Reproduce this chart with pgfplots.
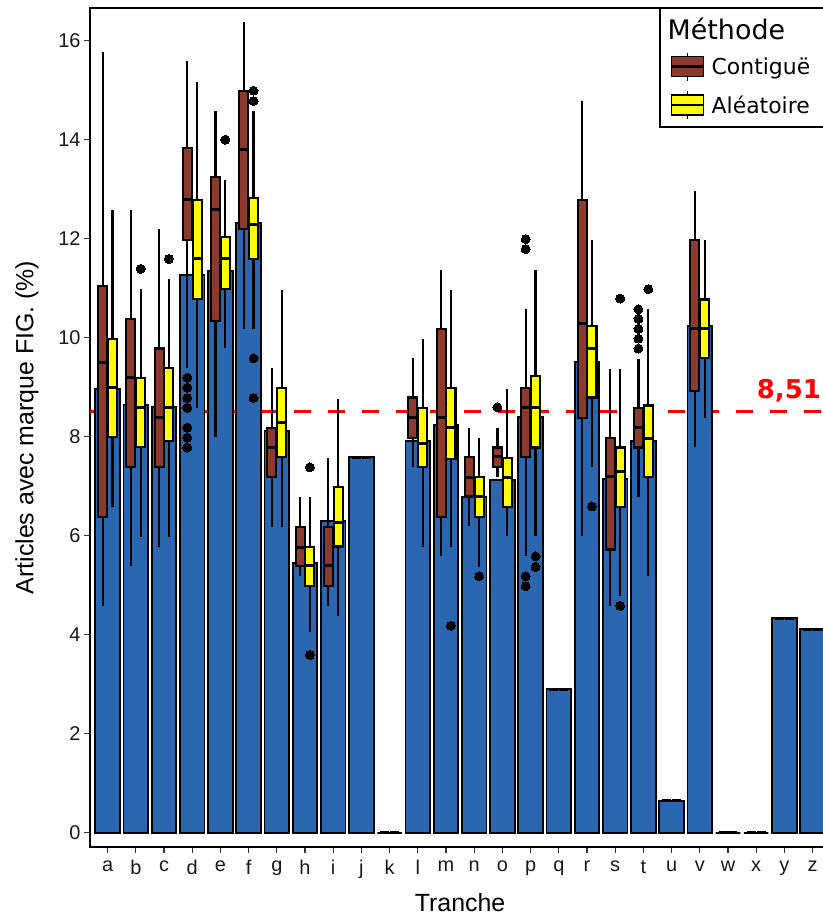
\documentclass[border=0pt]{standalone}
\usepackage{pgfplots}
\pgfplotsset{compat=1.18}
\usepgfplotslibrary{statistics}
\usepackage{fontspec}
\setmainfont{Liberation Sans}
\newfontfamily\dejavu{DejaVu Sans}
\definecolor{barblue}{RGB}{43,103,176}
\definecolor{brownc}{RGB}{139,58,45}
\definecolor{yel}{RGB}{255,255,0}
% pos, colour, lw, lq, med, uq, uw
\newcommand{\bxn}[7]{%
\addplot[forget plot, black, line width=2.1bp,
 boxplot prepared={draw direction=y, draw position={#1}, lower whisker=#3, lower quartile=#4, median=#5, upper quartile=#6, upper whisker=#7, box extend=0.32, whisker extend=0,
   every box/.style={draw=black, fill=#2, line width=2.1bp},
   every whisker/.style={draw=black, line width=2.1bp},
   every median/.style={draw=black, line width=3bp}}]
 coordinates {};}
\newcommand{\bxo}[8]{%
\addplot[forget plot, black, line width=2.1bp, mark=*, mark size=4.5bp, mark options={fill=black, draw=black, line width=0pt},
 boxplot prepared={draw direction=y, draw position={#1}, lower whisker=#3, lower quartile=#4, median=#5, upper quartile=#6, upper whisker=#7, box extend=0.32, whisker extend=0,
   every box/.style={draw=black, fill=#2, line width=2.1bp},
   every whisker/.style={draw=black, line width=2.1bp},
   every median/.style={draw=black, line width=3bp}}]
 table[row sep=\\, y index=0] {y\\ #8};}
\begin{document}
\begin{tikzpicture}
\begin{axis}[
 scale only axis, width=740.2bp, height=839bp,
 xmin=-0.624, xmax=25.624, ymin=-0.29, ymax=16.66,
 xtick={0,...,25},
 xticklabels={a,b,c,d,e,f,g,h,i,j,k,l,m,n,o,p,q,r,s,t,u,v,w,x,y,z},
 ytick={0,2,...,16},
 tick align=outside, xtick pos=bottom, ytick pos=left,
 major tick length=6bp,
 tick style={line width=1.3bp, color=black!80},
 axis line style={line width=1.6bp},
 /pgf/number format/assume math mode=true,
 ticklabel style={font=\fontsize{20}{20}\selectfont, text=black!90},
 xticklabel style={yshift=-4bp},
 xlabel={Tranche}, ylabel={Articles avec marque FIG. (\%)},
 label style={font=\fontsize{25}{25}\selectfont},
 xlabel style={at={(axis description cs:0.5,0)}, anchor=center, yshift=-56bp},
 ylabel style={at={(axis description cs:-0.0851,0.5)}, anchor=center},
 clip mode=individual,
 legend style={at={(axis description cs:0.7687,1)}, anchor=north west, draw=black, line width=1.5bp, fill=white,
   font=\dejavu\fontsize{22}{22}\selectfont, row sep=9bp, inner ysep=7bp},
 legend cell align=left,
]
% reference line
\addplot[forget plot, red, line width=2.8bp, dash pattern=on 17bp off 17bp] coordinates {(-0.624,8.51) (25.624,8.51)};
% bars
\addplot[forget plot, ybar, bar width=0.87, bar shift=0, fill=barblue, draw=black, line width=1.9bp] coordinates {
(0,8.97) (1,8.64) (2,8.60) (3,11.27) (4,11.34) (5,12.31) (6,8.11) (7,5.44) (8,6.30) (9,7.58)
(10,0) (11,7.92) (12,8.23) (13,6.78) (14,7.13) (15,8.39) (16,2.90) (17,9.51) (18,7.14) (19,7.91)
(20,0.64) (21,10.24) (22,0) (23,0) (24,4.33) (25,4.11)};
% a
\bxn{-0.175}{brownc}{4.58}{6.38}{9.49}{11.04}{15.78}
\bxn{0.175}{yel}{6.58}{7.99}{8.99}{9.98}{12.57}
% b
\bxn{0.825}{brownc}{5.39}{7.38}{9.19}{10.38}{12.57}
\bxo{1.175}{yel}{5.98}{7.79}{8.58}{9.19}{10.98}{11.39\\}
% c
\bxn{1.825}{brownc}{5.78}{7.38}{8.38}{9.78}{12.19}
\bxo{2.175}{yel}{5.98}{7.92}{8.58}{9.38}{11.18}{11.59\\}
% d
\bxo{2.825}{brownc}{9.39}{11.98}{12.79}{13.84}{15.58}{9.19\\ 8.99\\ 8.78\\ 8.58\\ 8.18\\ 7.98\\ 7.78\\}
\bxn{3.175}{yel}{8.58}{10.79}{11.59}{12.79}{15.17}
% e
\bxn{3.825}{brownc}{7.99}{10.33}{12.58}{13.24}{14.58}
\bxo{4.175}{yel}{9.79}{10.99}{11.59}{12.03}{13.18}{14.0\\}
% f
\bxn{4.825}{brownc}{10.18}{12.19}{13.80}{14.99}{16.38}
\bxo{5.175}{yel}{10.18}{11.59}{12.28}{12.83}{14.58}{14.99\\ 14.78\\ 9.58\\ 8.78\\}
% g
\bxn{5.825}{brownc}{6.18}{7.18}{7.79}{8.18}{9.38}
\bxn{6.175}{yel}{6.18}{7.59}{8.28}{8.99}{10.97}
% h
\bxn{6.825}{brownc}{5.19}{5.39}{5.77}{6.18}{6.78}
\bxo{7.175}{yel}{4.05}{4.98}{5.39}{5.77}{6.78}{7.38\\ 3.59\\}
% i
\bxn{7.825}{brownc}{4.58}{4.98}{5.39}{6.18}{7.57}
\bxn{8.175}{yel}{4.38}{5.78}{6.26}{6.98}{8.77}
% j
\bxn{8.825}{brownc}{7.58}{7.58}{7.58}{7.58}{7.58}
\bxn{9.175}{yel}{7.58}{7.58}{7.58}{7.58}{7.58}
% k
\bxn{9.825}{brownc}{0}{0}{0}{0}{0}
\bxn{10.175}{yel}{0}{0}{0}{0}{0}
% l
\bxn{10.825}{brownc}{7.38}{7.98}{8.38}{8.79}{9.58}
\bxn{11.175}{yel}{5.78}{7.38}{7.87}{8.58}{9.98}
% m
\bxn{11.825}{brownc}{5.59}{6.38}{8.38}{10.18}{11.37}
\bxo{12.175}{yel}{5.78}{7.54}{8.18}{8.99}{10.97}{4.18\\}
% n
\bxn{12.825}{brownc}{6.19}{6.79}{7.18}{7.58}{8.17}
\bxo{13.175}{yel}{5.37}{6.38}{6.79}{7.18}{7.97}{5.18\\}
% o
\bxo{13.825}{brownc}{7.19}{7.39}{7.59}{7.78}{8.17}{8.59\\}
\bxn{14.175}{yel}{5.99}{6.57}{7.18}{7.57}{8.97}
% p
\bxo{14.825}{brownc}{5.58}{7.58}{8.59}{8.99}{10.57}{11.99\\ 11.79\\ 5.18\\ 4.98\\}
\bxo{15.175}{yel}{5.99}{7.78}{8.59}{9.23}{11.37}{5.58\\ 5.37\\}
% q
\bxn{15.825}{brownc}{2.90}{2.90}{2.90}{2.90}{2.90}
\bxn{16.175}{yel}{2.90}{2.90}{2.90}{2.90}{2.90}
% r
\bxn{16.825}{brownc}{5.99}{8.38}{10.29}{12.78}{14.78}
\bxo{17.175}{yel}{7.39}{8.79}{9.78}{10.23}{11.98}{6.59\\}
% s
\bxn{17.825}{brownc}{4.58}{5.72}{7.19}{7.98}{9.37}
\bxo{18.175}{yel}{4.78}{6.57}{7.30}{7.78}{9.37}{10.79\\ 4.58\\}
% t
\bxo{18.825}{brownc}{6.79}{7.78}{8.18}{8.58}{9.57}{10.57\\ 10.38\\ 10.18\\ 9.98\\ 9.78\\}
\bxo{19.175}{yel}{5.18}{7.18}{7.97}{8.63}{10.57}{10.98\\}
% u
\bxn{19.825}{brownc}{0.64}{0.64}{0.64}{0.64}{0.64}
\bxn{20.175}{yel}{0.64}{0.64}{0.64}{0.64}{0.64}
% v
\bxn{20.825}{brownc}{7.79}{8.92}{10.18}{11.98}{12.97}
\bxn{21.175}{yel}{8.38}{9.58}{10.18}{10.77}{11.98}
% w
\bxn{21.825}{brownc}{0}{0}{0}{0}{0}
\bxn{22.175}{yel}{0}{0}{0}{0}{0}
% x
\bxn{22.825}{brownc}{0}{0}{0}{0}{0}
\bxn{23.175}{yel}{0}{0}{0}{0}{0}
% y
\bxn{23.825}{brownc}{4.33}{4.33}{4.33}{4.33}{4.33}
\bxn{24.175}{yel}{4.33}{4.33}{4.33}{4.33}{4.33}
% z
\bxn{24.825}{brownc}{4.11}{4.11}{4.11}{4.11}{4.11}
\bxn{25.175}{yel}{4.11}{4.11}{4.11}{4.11}{4.11}
% label
\node[anchor=base east, inner sep=0pt, text=red, font=\dejavu\bfseries\fontsize{26}{26}\selectfont] at (axis cs:25.30,8.77) {8,51};
% legend
\addlegendimage{empty legend}
\addlegendentry{\hspace{-39bp}\fontsize{27}{27}\selectfont Méthode}
\addlegendimage{legend image code/.code={
  \path (0bp,0bp);
  \draw[line width=1.6bp] (24bp,-14bp)--(24bp,14bp);
  \filldraw[fill=brownc,draw=black,line width=1.8bp] (8bp,-10bp) rectangle (40bp,10bp);
  \draw[line width=2.4bp] (8bp,0bp)--(40bp,0bp);}}
\addlegendentry{\hspace{5bp}Contiguë\rule{18bp}{0pt}}
\addlegendimage{legend image code/.code={
  \path (0bp,0bp);
  \draw[line width=1.6bp] (24bp,-14bp)--(24bp,14bp);
  \filldraw[fill=yel,draw=black,line width=1.8bp] (8bp,-10bp) rectangle (40bp,10bp);
  \draw[line width=2.4bp] (8bp,0bp)--(40bp,0bp);}}
\addlegendentry{\hspace{5bp}Aléatoire\rule{18bp}{0pt}}
\end{axis}
\pgfresetboundingbox
\path[use as bounding box] ([xshift=-90bp,yshift=-69bp]current axis.south west) rectangle ([xshift=-7.2bp,yshift=8bp]current axis.north east);
\end{tikzpicture}
\end{document}
